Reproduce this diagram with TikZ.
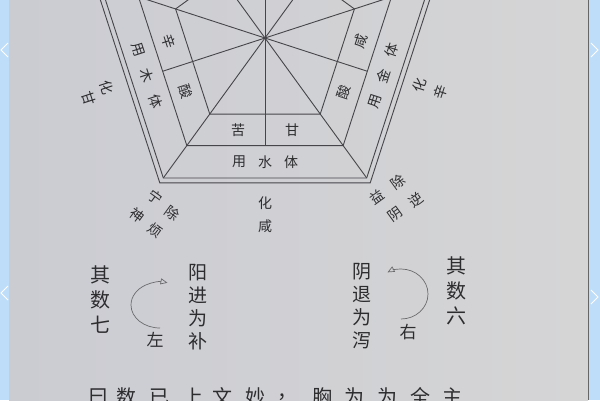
\documentclass[tikz,border=0pt]{standalone}
\usepackage{fontspec}
\newfontfamily\cjk{Noto Sans CJK SC}
\usetikzlibrary{calc,arrows.meta}

\definecolor{screen}{RGB}{190,221,248}
\definecolor{paperL}{RGB}{203,204,210}
\definecolor{paperR}{RGB}{213,213,214}
\definecolor{ink}{RGB}{45,45,48}
\definecolor{pen}{RGB}{70,70,74}

\tikzset{
  line/.style={pen, line width=0.9pt},
  lbl/.style={font=\cjk\fontsize{14}{14}\selectfont, text=ink, inner sep=0pt},
  col/.style={font=\cjk\fontsize{19}{23}\selectfont, text=ink, inner sep=0pt, align=center},
  turn/.style={pen!80, line width=0.7pt, -{Triangle[open,length=7pt,width=6pt]}}
}

\begin{document}
\begin{tikzpicture}[x=1pt,y=1pt]

% Page and screen edges
\useasboundingbox (0,0) rectangle (600,-400);
\fill[screen] (0,0) rectangle (600,-400);
\shade[left color=paperL, right color=paperR] (9,0) rectangle (588,-400);
\draw[gray!80!black, line width=1pt] (588.5,0) -- (588.5,-400);
\draw[white, line width=0.8pt] (8,-43) -- (1,-50) -- (8,-57);
\draw[white, line width=0.8pt] (8,-286) -- (1,-293) -- (8,-300);
\draw[white, line width=0.8pt] (591,-43) -- (598,-50) -- (591,-57);
\draw[white, line width=0.8pt] (591,-290) -- (598,-297) -- (591,-304);

\begin{scope}
\clip (9,0) rectangle (588,-400);

% Define centre
\coordinate (O) at (265,-38);

% Four pentagons and the radial lines
\begin{scope}[shift={(O)}]
\draw[line] (90:94) -- (162:94) -- (234:94) -- (306:94) -- (18:94) -- cycle;
\draw[line] (90:133) -- (162:133) -- (234:133) -- (306:133) -- (18:133) -- cycle;
\draw[line] (90:173) -- (162:173) -- (234:173) -- (306:173) -- (18:173) -- cycle;
\draw[line] (90:179) -- (162:179) -- (234:179) -- (306:179) -- (18:179) -- cycle;
% to the corners
\draw[line] (0,0) -- (90:173);
\draw[line] (0,0) -- (162:173);
\draw[line] (0,0) -- (234:173);
\draw[line] (0,0) -- (306:173);
\draw[line] (0,0) -- (18:173);
% to the middle of each side
\draw[line] (0,0) -- (126:107.6);
\draw[line] (0,0) -- (198:107.6);
\draw[line] (0,0) -- (270:107.6);
\draw[line] (0,0) -- (342:107.6);
\draw[line] (0,0) -- (54:107.6);
\end{scope}

% Wood side
\node[lbl, rotate=-72] (muYong) at (138.7,-50) {用};
\node[lbl, rotate=-72] (mu) at (147,-76) {木};
\node[lbl, rotate=-72] (muTi) at (155.3,-101.7) {体};
\node[lbl, rotate=-72] (muXin) at (169,-41) {辛};
\node[lbl, rotate=-72] (muSuan) at (185.8,-92) {酸};
\node[lbl, rotate=-72] (muHua) at (107,-88) {化};
\node[lbl, rotate=-72] (muGan) at (89,-99) {甘};

% Metal side
\node[lbl, rotate=72] (jinTi) at (391.3,-50) {体};
\node[lbl, rotate=72] (jin) at (383,-76) {金};
\node[lbl, rotate=72] (jinYong) at (374.7,-101.7) {用};
\node[lbl, rotate=72] (jinXian) at (361,-41) {咸};
\node[lbl, rotate=72] (jinSuan) at (344,-92) {酸};
\node[lbl, rotate=72] (jinHua) at (420,-85) {化};
\node[lbl, rotate=72] (jinXin) at (441,-92) {辛};

% Water side
\node[lbl] (shuiYong) at (239,-162) {用};
\node[lbl] (shui) at (265,-162) {水};
\node[lbl] (shuiTi) at (291,-162) {体};
\node[lbl] (shuiKu) at (238,-130) {苦};
\node[lbl] (shuiGan) at (292,-130) {甘};
\node[lbl] (shuiHua) at (265,-203) {化};
\node[lbl] (shuiXian) at (265,-226) {咸};

% Corner words
\node[lbl, rotate=-36] (ning) at (155,-197) {宁};
\node[lbl, rotate=-36] (shen) at (137,-215) {神};
\node[lbl, rotate=-36] (chuL) at (172,-213) {除};
\node[lbl, rotate=-36] (fan) at (155,-230) {烦};
\node[lbl, rotate=36] (yi) at (377,-197) {益};
\node[lbl, rotate=36] (yinR) at (395,-214) {阴};
\node[lbl, rotate=36] (chuR) at (398,-182) {除};
\node[lbl, rotate=36] (ni) at (416,-200) {逆};

% Left and right turns
\node[col, font=\cjk\fontsize{20}{25}\selectfont] (qiQi) at (100,-300) {其\\数\\七};
\node[col] (yangJin) at (198,-307.5) {阳\\进\\为\\补};
\node[lbl, font=\cjk\fontsize{17}{17}\selectfont] (zuo) at (155,-340) {左};
\draw[turn] (160,-328) arc[start angle=270, end angle=75, x radius=29, y radius=23];

\node[col] (yinTui) at (362,-306.5) {阴\\退\\为\\泻};
\node[col, font=\cjk\fontsize{20}{25}\selectfont] (qiLiu) at (456,-291) {其\\数\\六};
\node[lbl, font=\cjk\fontsize{17}{17}\selectfont] (you) at (408,-332) {右};
\draw[turn] (401,-319) arc[start angle=-90, end angle=120, x radius=27, y radius=25];

% Next line of the page, cut by the edge
\node[lbl, font=\cjk\fontsize{20}{20}\selectfont] (t1) at (98,-397) {曰};
\node[lbl, font=\cjk\fontsize{20}{20}\selectfont] (t2) at (126,-397) {数};
\node[lbl, font=\cjk\fontsize{20}{20}\selectfont] (t3) at (159,-397) {已};
\node[lbl, font=\cjk\fontsize{20}{20}\selectfont] (t4) at (193,-397) {上};
\node[lbl, font=\cjk\fontsize{20}{20}\selectfont] (t5) at (222,-397) {文};
\node[lbl, font=\cjk\fontsize{20}{20}\selectfont] (t6) at (255,-397) {妙};
\node[lbl, font=\cjk\fontsize{20}{20}\selectfont] (t7) at (287,-397) {，};
\node[lbl, font=\cjk\fontsize{20}{20}\selectfont] (t8) at (322,-397) {胸};
\node[lbl, font=\cjk\fontsize{20}{20}\selectfont] (t9) at (354,-397) {为};
\node[lbl, font=\cjk\fontsize{20}{20}\selectfont] (t10) at (387,-397) {为};
\node[lbl, font=\cjk\fontsize{20}{20}\selectfont] (t11) at (420,-397) {全};
\node[lbl, font=\cjk\fontsize{20}{20}\selectfont] (t12) at (452,-397) {主};
\end{scope}

\end{tikzpicture}
\end{document}
